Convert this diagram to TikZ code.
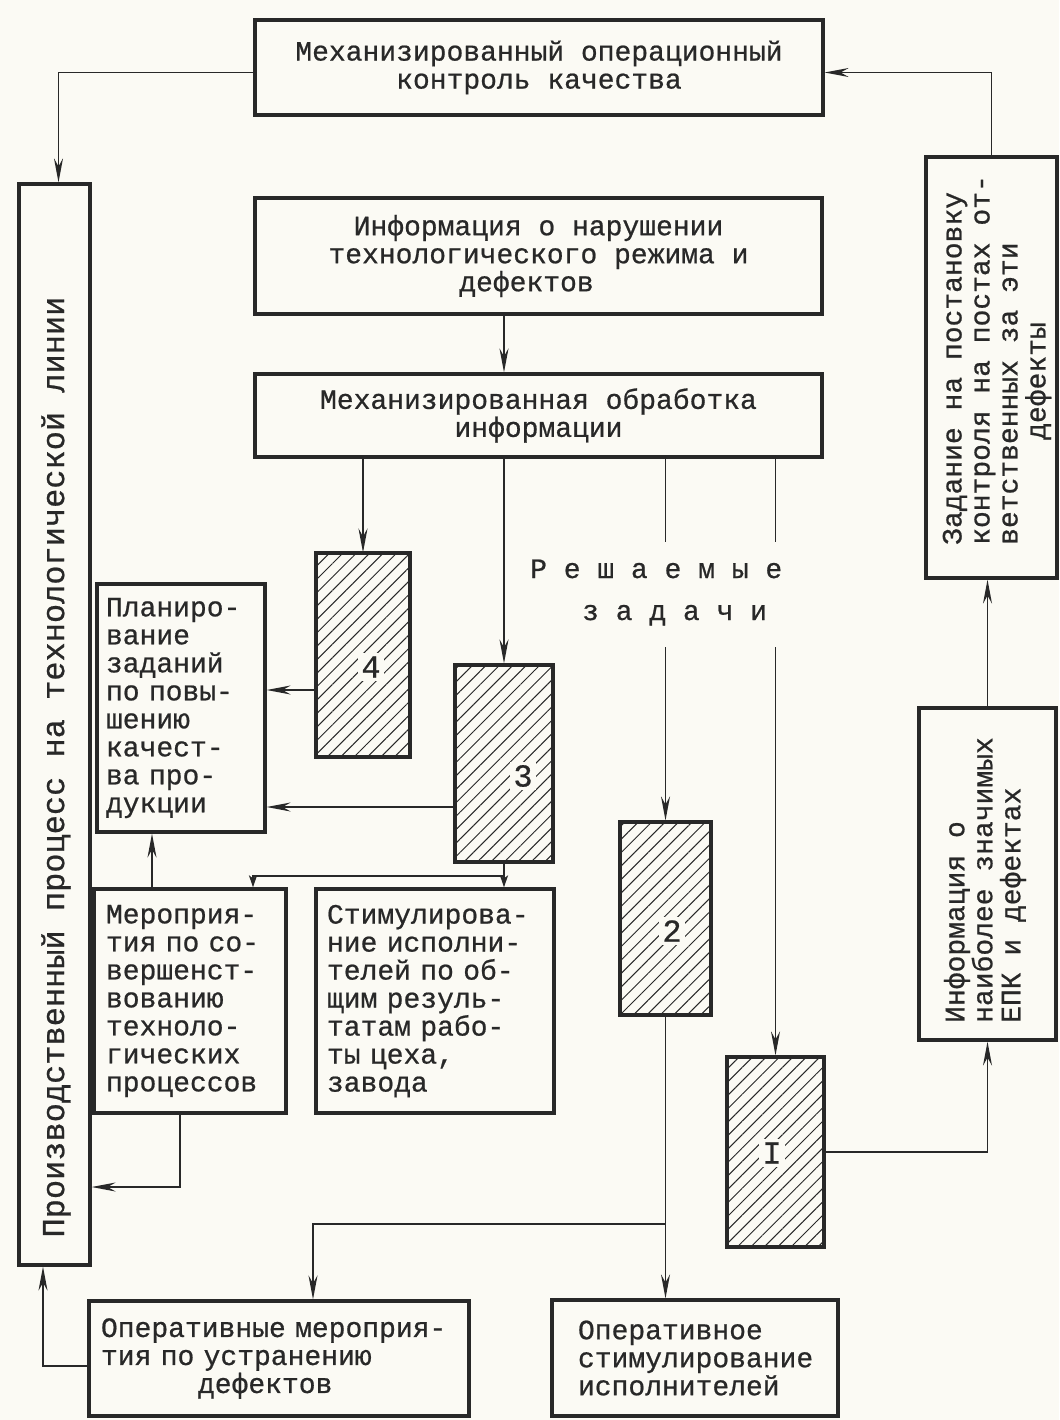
\documentclass[tikz,border=0pt]{standalone}
\usepackage{fontspec}
\setmainfont{Liberation Mono}[FakeBold=0.7]
\usetikzlibrary{arrows.meta,patterns.meta}
\definecolor{paper}{RGB}{251,250,244}
\definecolor{ink}{RGB}{40,40,40}
\begin{document}
\begin{tikzpicture}[x=1pt,y=-1pt,
  box/.style={draw=ink, line width=3.2pt, inner sep=0pt},
  hbox/.style={box, pattern={Lines[angle=45,distance=9.5pt,line width=1pt]}, pattern color=ink},
  txt/.style={font=\fontsize{28}{28}\selectfont, text=ink},
  ln/.style={draw=ink, line width=1.8pt},
  arr/.style={ln, -{Stealth[length=24pt,width=9pt,inset=8pt]}},
  arrs/.style={ln, -{Stealth[length=12pt,width=8pt,inset=3pt]}},
  num/.style={font=\fontsize{32}{32}\selectfont, text=ink, fill=paper, inner sep=3pt}]
\useasboundingbox (0,0) rectangle (1059,1420);
\fill[paper] (0,0) rectangle (1059,1420);

% boxes with text
\node[box, txt, align=center, minimum width=568, minimum height=95] (mc) at (539,67.5)
  {\raisebox{-6pt}{\parbox{500pt}{\centering Механизированный операционный\\контроль качества}}};
\node[box, txt, align=center, minimum width=567, minimum height=116] (info1) at (538.5,256)
  {Информация о нарушении\\технологического режима и\\дефектов\hspace*{24pt}};
\node[box, txt, align=center, minimum width=567, minimum height=83] (mo) at (538.5,415.5)
  {Механизированная обработка\\информации};
\node[box, txt, align=left, text width=150, minimum width=168, minimum height=248] (plan) at (181,708)
  {Планиро-\\вание\\заданий\\по повы-\\шению\\качест-\\ва про-\\дукции};
\node[box, txt, align=left, text width=168, minimum width=192, minimum height=224] (mer) at (190,1001)
  {Мероприя-\\тия по со-\\вершенст-\\вованию\\техноло-\\гических\\процессов};
\node[box, txt, align=left, text width=216, minimum width=238, minimum height=224] (stim) at (435,1001)
  {Стимулирова-\\ние исполни-\\телей по об-\\щим резуль-\\татам рабо-\\ты цеха,\\завода};
\node[box, txt, align=left, text width=356, minimum width=380, minimum height=115] (opm) at (279,1358.5)
  {Оперативные мероприя-\\тия по устранению\\\hspace*{97pt}дефектов};
\node[box, txt, align=left, text width=234, minimum width=286, minimum height=116] (ops) at (695,1358)
  {Оперативное\\стимулирование\\исполнителей};

% tall boxes with rotated text
\node[box, minimum width=71, minimum height=1081] (proc) at (54.5,724.5) {};
\node[txt, font=\fontsize{32}{32}\selectfont, rotate=90] (procT) at (56,767)
  {Производственный процесс на технологической линии};
\node[box, minimum width=131, minimum height=421] (task) at (991.5,367.5) {};
\node[txt, rotate=90, align=left] (taskT) at (997,360)
  {Задание на постановку\\контроля на постах от-\\ветственных за эти\\\hspace*{105pt}дефекты};
\node[box, minimum width=137, minimum height=332] (infoR) at (987.5,874) {};
\node[txt, rotate=90, align=left] (infoRT) at (985,880)
  {Информация о\\наиболее значимых\\ЕПК и дефектах};

% hatched task boxes
\node[hbox, minimum width=94, minimum height=204] (box4) at (363,655) {};
\node[hbox, minimum width=98, minimum height=197] (box3) at (504,763.5) {};
\node[hbox, minimum width=91, minimum height=193] (box2) at (665.5,918.5) {};
\node[hbox, minimum width=97, minimum height=190] (boxI) at (775.5,1152) {};
\node[num] (n4) at (371,667) {4};
\node[num] (n3) at (523,776) {3};
\node[num] (n2) at (672,931) {2};
\node[num] (nI) at (772,1153) {I};

\node[txt, anchor=base west, inner sep=0pt] (rz1) at (530,578) {Р е ш а е м ы е};
\node[txt, anchor=base west, inner sep=0pt] (rz2) at (582,620) {з а д а ч и};

% connectors
\draw[arr] ([yshift=-5]mc.west) -| ([xshift=4]proc.north);
\draw[arr] (task.north) |- ([yshift=-5]mc.east);
\draw[arr] (info1.south -| box3.north) -- (mo.north -| box3.north);
\draw[arr] (mo.south -| box4.north) -- (box4.north);
\draw[arr] (mo.south -| box3.north) -- (box3.north);
\coordinate (gT) at (0,542);
\coordinate (gB) at (0,647);
\draw[ln] (mo.south -| box2.north) -- (gT -| box2.north);
\draw[arr] (gB -| box2.north) -- (box2.north);
\draw[ln] (mo.south -| boxI.north) -- (gT -| boxI.north);
\draw[arr] (gB -| boxI.north) -- (boxI.north);
\coordinate (a4) at (0,690);
\coordinate (a3) at (0,807);
\draw[arr] (a4 -| box4.west) -- (a4 -| plan.east);
\draw[arr] (a3 -| box3.west) -- (a3 -| plan.east);
\coordinate (mx) at (152,0);
\draw[arr] (mx |- mer.north) -- (mx |- plan.south);
\coordinate (br) at (0,876);
\coordinate (brx) at (253,0);
\draw[arrs] (box3.south) -- (box3.south |- stim.north);
\draw[arrs] (br -| box3.south) -| (brx |- mer.north);
\coordinate (ml) at (0,1187);
\coordinate (mbx) at (180,0);
\draw[arr] (mbx |- mer.south) |- (ml -| proc.east);
\coordinate (b2) at (0,1224);
\coordinate (obx) at (313,0);
\draw[arr] (box2.south) -- (box2.south |- ops.north);
\draw[arr] (b2 -| box2.south) -| (obx |- opm.north);
\draw[arr] (boxI.east) -| (infoR.south);
\draw[arr] (infoR.north) -- (infoR.north |- task.south);
\coordinate (ol) at (0,1366);
\coordinate (olx) at (43,0);
\draw[arr] (ol -| opm.west) -| (olx |- proc.south);
\end{tikzpicture}
\end{document}
